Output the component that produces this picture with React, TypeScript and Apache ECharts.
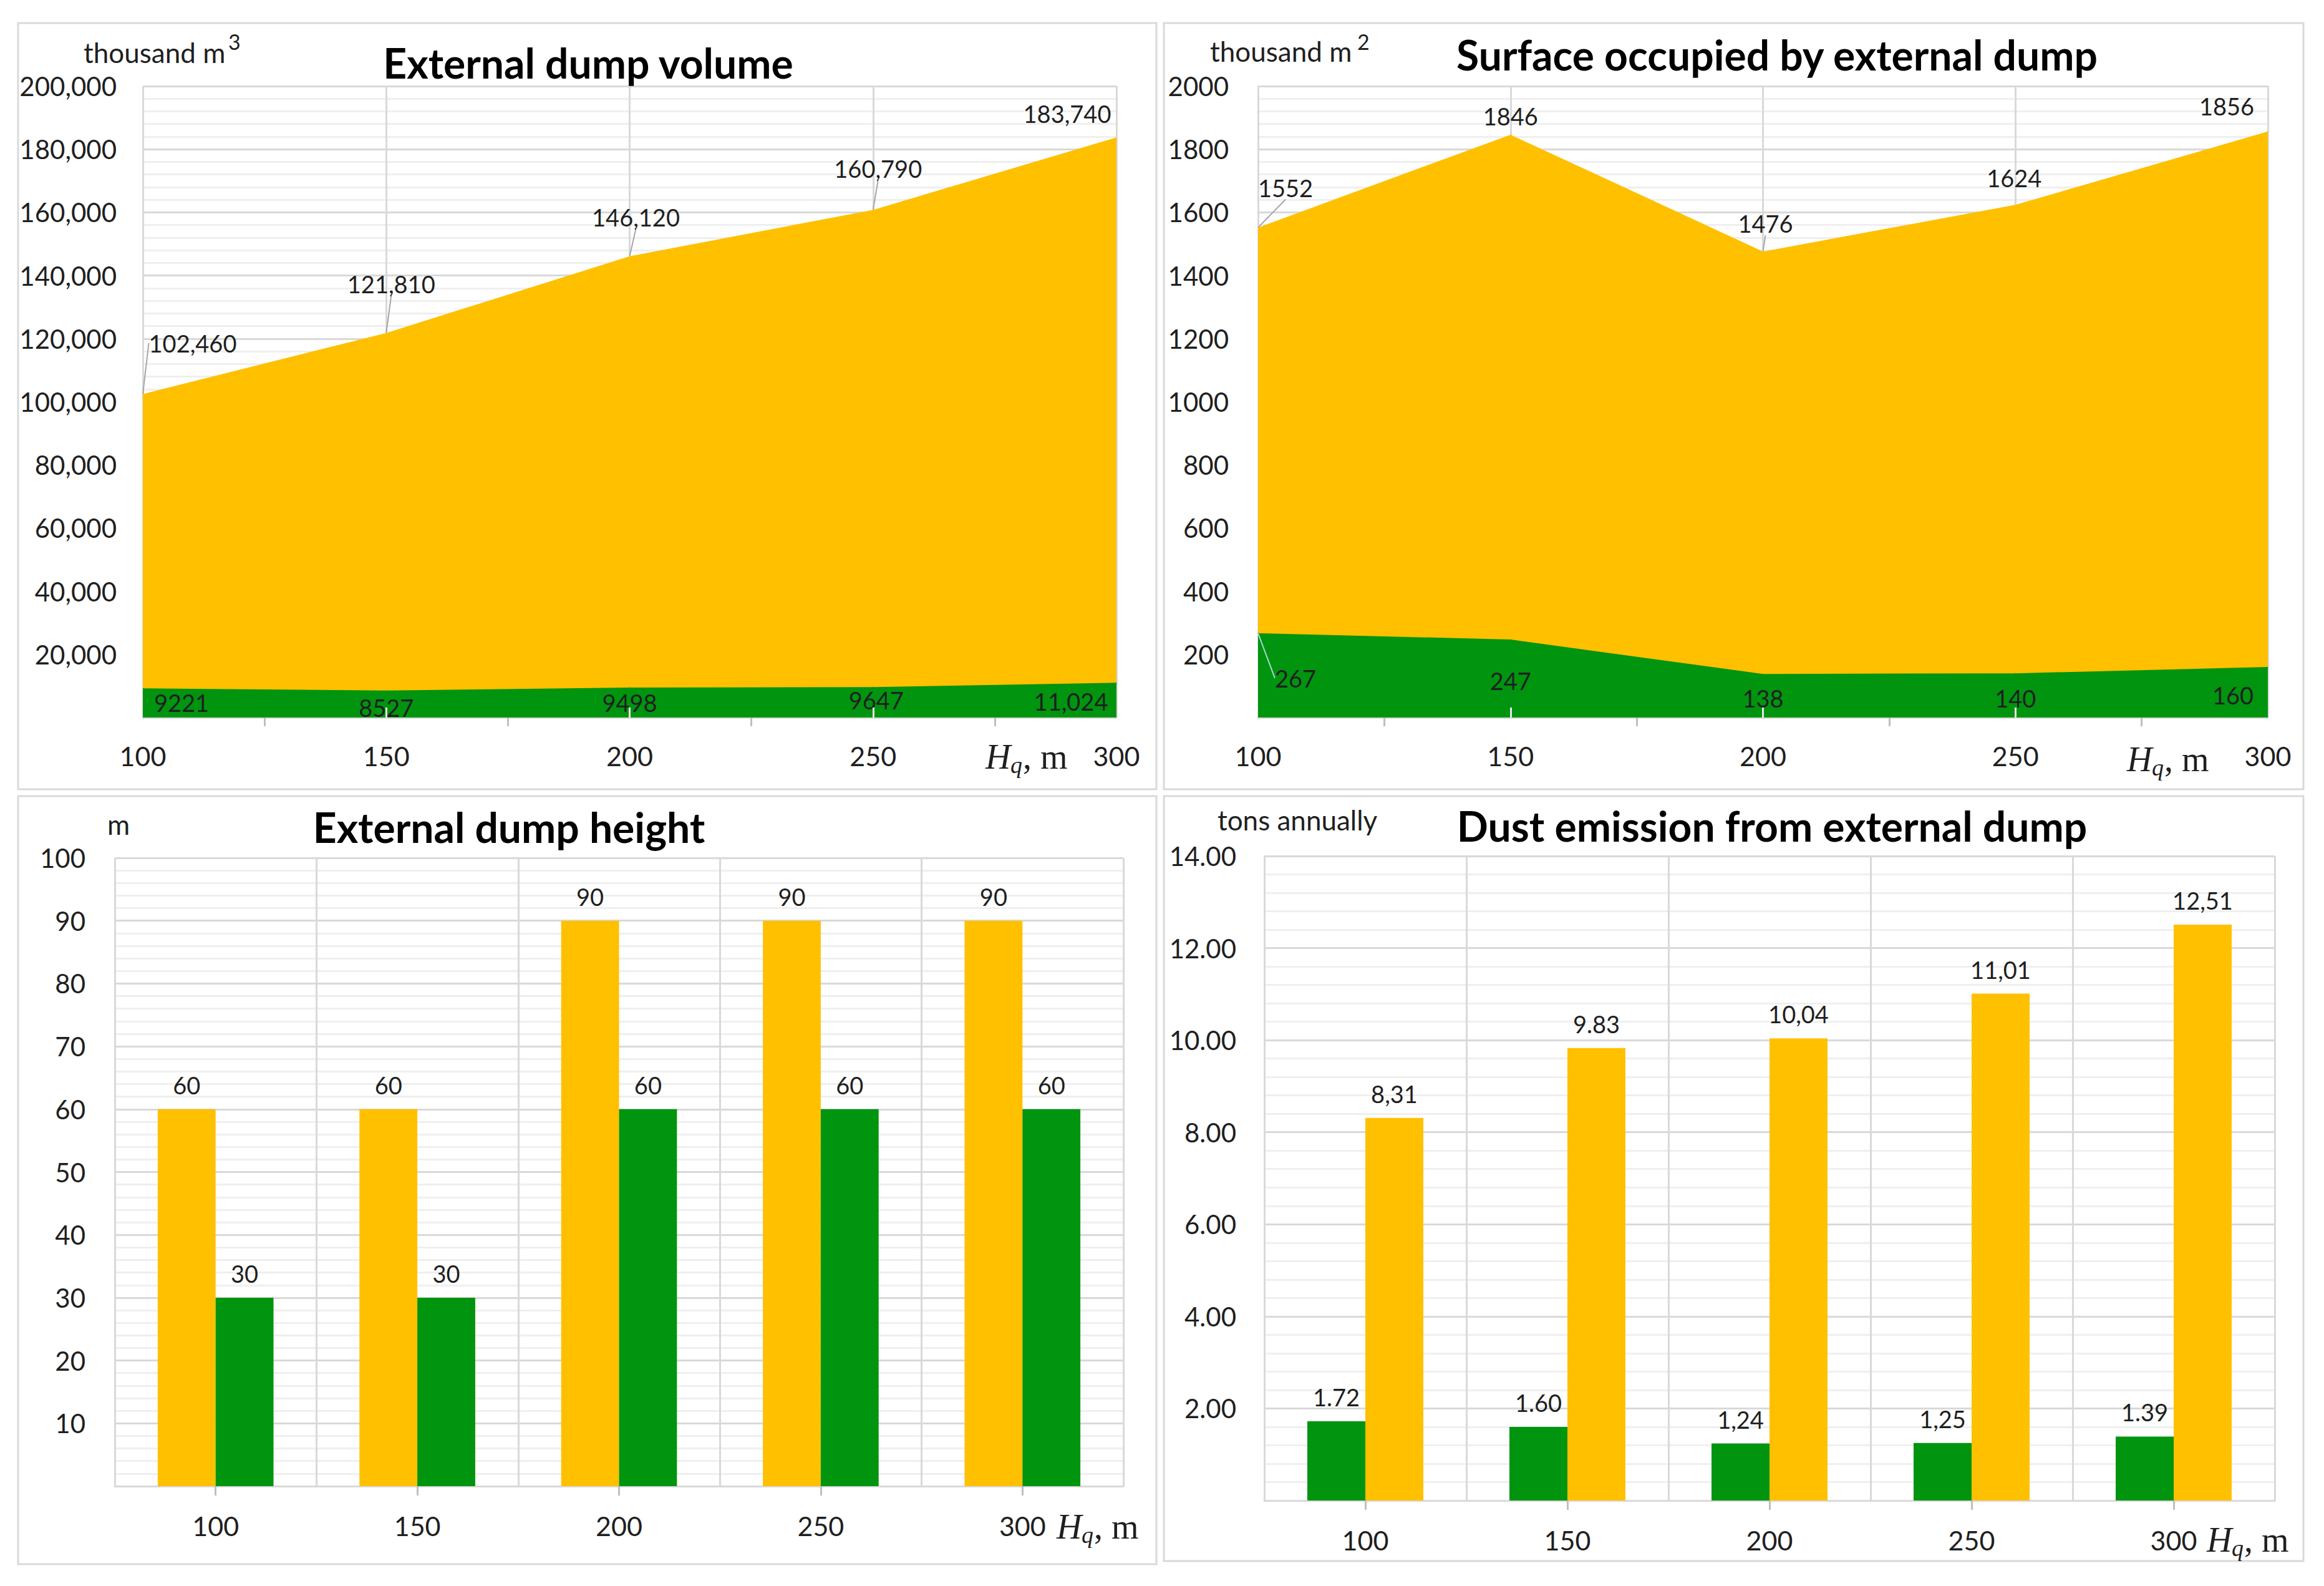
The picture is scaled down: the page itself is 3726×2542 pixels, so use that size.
import React, { useEffect, useRef } from 'react';
import * as echarts from 'echarts';

// ---------------- data ----------------
const H_VALUES = [100, 150, 200, 250, 300];
const H_LABELS = ['100', '150', '200', '250', '300'];

const VOLUME_TOTAL = [102460, 121810, 146120, 160790, 183740];
const VOLUME_TOTAL_LABELS = ['102,460', '121,810', '146,120', '160,790', '183,740'];
const VOLUME_GREEN = [9221, 8527, 9498, 9647, 11024];
const VOLUME_GREEN_LABELS = ['9221', '8527', '9498', '9647', '11,024'];
const VOLUME_TICKS = ['', '20,000', '40,000', '60,000', '80,000', '100,000', '120,000', '140,000', '160,000', '180,000', '200,000'];

const SURFACE_TOTAL = [1552, 1846, 1476, 1624, 1856];
const SURFACE_GREEN = [267, 247, 138, 140, 160];
const SURFACE_TICKS = ['', '200', '400', '600', '800', '1000', '1200', '1400', '1600', '1800', '2000'];

const HEIGHT_YELLOW = [60, 60, 90, 90, 90];
const HEIGHT_GREEN = [30, 30, 60, 60, 60];
const HEIGHT_TICKS = ['', '10', '20', '30', '40', '50', '60', '70', '80', '90', '100'];

const DUST_GREEN = [1.72, 1.6, 1.24, 1.25, 1.39];
const DUST_GREEN_LABELS = ['1.72', '1.60', '1,24', '1,25', '1.39'];
const DUST_YELLOW = [8.31, 9.83, 10.04, 11.01, 12.51];
const DUST_YELLOW_LABELS = ['8,31', '9.83', '10,04', '11,01', '12,51'];
const DUST_TICKS = ['', '2.00', '4.00', '6.00', '8.00', '10.00', '12.00', '14.00'];

// minor (between-category) and inner tick positions on the H axis
const H_OUTER_TICKS = [125, 175, 225, 275];
const H_INNER_TICKS = [150, 200, 250];

// ---------------- label layout (pixel offsets from point) ----------------
const VOL_TOTAL_OFF = [[80, -82], [8, -79], [10, -63], [8, -66], [-79, -38]];
const VOL_TOTAL_LINE = [true, true, true, true, false];
const VOL_GREEN_OFF = [[62, 23], [0, 27], [0, 24], [5, 21], [-73, 30]];
const SURF_TOTAL_OFF = [[44, -64], [0, -30], [4, -45], [-2, -43], [-66, -41]];
const SURF_TOTAL_LINE = [true, false, true, false, false];
const SURF_GREEN_OFF = [[60, 72], [0, 66], [0, 39], [0, 40], [-56, 45]];
const SURF_GREEN_LINE = [true, false, false, false, false];

// ---------------- style ----------------
const FONT = 'Lato, "Open Sans", sans-serif';
const SERIF = '"Liberation Serif", "DejaVu Serif", serif';
const TEXT = '#1f1f1f';
const YELLOW = '#FFC000';
const GREEN = '#00940F';
const GRID_MAJOR = '#d9d9d9';
const GRID_MINOR = '#efefef';
const TICK_FS = 42;
const XLABEL_FS = 43;
const DATA_FS = 38;

const GRIDS = [
  { left: 229, top: 138, width: 1561, height: 1012 },
  { left: 2017, top: 138, width: 1619, height: 1012 },
  { left: 184, top: 1375, width: 1617, height: 1007 },
  { left: 2027, top: 1372, width: 1620, height: 1033 },
];

function valueX(g: number) {
  return {
    type: 'value', gridIndex: g, min: 100, max: 300, interval: 50, position: 'bottom',
    axisLine: { show: true, lineStyle: { color: GRID_MAJOR, width: 3 } },
    axisTick: { show: false },
    axisLabel: { color: TEXT, fontSize: XLABEL_FS, fontFamily: FONT, margin: 40, formatter: (v: number) => H_LABELS[H_VALUES.indexOf(v)] ?? '' },
    splitLine: { show: true, lineStyle: { color: GRID_MAJOR, width: 3 } },
  };
}
function tickX(g: number, values: number[], inside: boolean, length: number, color: string, z: number) {
  return {
    type: 'value', gridIndex: g, min: 100, max: 300, interval: 50, position: 'bottom', z,
    axisLine: { show: false },
    axisLabel: { show: false },
    splitLine: { show: false },
    axisTick: { show: true, inside, customValues: values, length, lineStyle: { color, width: 3 } },
  };
}
function catX(g: number) {
  return {
    type: 'category', gridIndex: g, data: H_LABELS,
    axisLine: { show: true, lineStyle: { color: GRID_MAJOR, width: 3 } },
    axisTick: { show: true, alignWithLabel: true, length: 15, lineStyle: { color: '#bfbfbf', width: 3 } },
    axisLabel: { color: TEXT, fontSize: XLABEL_FS, fontFamily: FONT, margin: 42 },
    splitLine: { show: true, lineStyle: { color: GRID_MAJOR, width: 3 } },
  };
}
function valueY(g: number, max: number, interval: number, ticks: string[], margin: number) {
  return {
    type: 'value', gridIndex: g, min: 0, max, interval,
    axisLine: { show: false },
    axisTick: { show: false },
    minorTick: { show: false, splitNumber: 5 },
    axisLabel: { color: TEXT, fontSize: TICK_FS, fontFamily: FONT, margin, formatter: (v: number) => ticks[Math.round(v / interval)] ?? '' },
    splitLine: { show: true, lineStyle: { color: GRID_MAJOR, width: 3 } },
    minorSplitLine: { show: true, lineStyle: { color: GRID_MINOR, width: 3 } },
  };
}

function areaSeries(g: number, values: number[], labels: string[], color: string, off: number[][], lines: boolean[] | null, lineColor: string) {
  return {
    type: 'line', xAxisIndex: g, yAxisIndex: g,
    data: values.map((v, i) => ({
      value: [H_VALUES[i], v],
      labelLine: { show: lines ? lines[i] : false, lineStyle: { color: lineColor, width: 2 } },
    })),
    symbol: 'circle', symbolSize: 1,
    itemStyle: { color },
    lineStyle: { width: 0, color },
    areaStyle: { color, opacity: 1 },
    label: {
      show: true, position: 'inside', color: TEXT, fontSize: DATA_FS, fontFamily: FONT,
      formatter: (p: any) => labels[p.dataIndex],
    },
    labelLayout: (p: any) => ({ dx: off[p.dataIndex][0], dy: off[p.dataIndex][1] }),
  };
}

function barSeries(g: number, values: number[], labels: string[] | null, color: string) {
  return {
    type: 'bar', xAxisIndex: g, yAxisIndex: g, data: values,
    barGap: '0%', barCategoryGap: '42.6%',
    itemStyle: { color },
    label: {
      show: true, position: 'top', distance: 20, color: TEXT, fontSize: DATA_FS, fontFamily: FONT,
      formatter: (p: any) => (labels ? labels[p.dataIndex] : String(p.value)),
    },
  };
}

function txt(text: string, x: number, y: number, font: string, align = 'left', fill = TEXT) {
  return { type: 'text', x, y, z: 100, style: { text, font, fill, textAlign: align, textVerticalAlign: 'middle' } };
}
function hq(x: number, y: number) {
  return [
    txt('H', x, y, `italic 56px ${SERIF}`),
    txt('q', x + 40, y + 13, `italic 38px ${SERIF}`),
    txt(', m', x + 60, y, `56px ${SERIF}`),
  ];
}
function border(x: number, y: number, w: number, h: number) {
  return { type: 'rect', shape: { x, y, width: w, height: h }, style: { fill: 'none', stroke: GRID_MAJOR, lineWidth: 3 }, z: 0 };
}

export default function App() {
  const ref = useRef<HTMLDivElement>(null);
  useEffect(() => {
    document.body.style.margin = '0';
    if (!ref.current) return;
    const chart = echarts.init(ref.current, null, { renderer: 'svg' });
    const TITLE_FONT = `bold 66px ${FONT}`;
    const UNIT_FONT = `44px ${FONT}`;
    const option: any = {
      animation: false,
      backgroundColor: '#ffffff',
      grid: GRIDS.map((g) => ({ ...g, containLabel: false, outerBoundsMode: 'none' })),
      xAxis: [
        valueX(0), valueX(1), catX(2), catX(3),
        tickX(0, H_OUTER_TICKS, false, 14, '#bfbfbf', 0),
        tickX(1, H_OUTER_TICKS, false, 14, '#bfbfbf', 0),
        tickX(0, H_INNER_TICKS, true, 16, '#e6e6e6', 10),
        tickX(1, H_INNER_TICKS, true, 16, '#e6e6e6', 10),
      ],
      yAxis: [
        valueY(0, 200000, 20000, VOLUME_TICKS, 42),
        valueY(1, 2000, 200, SURFACE_TICKS, 47),
        valueY(2, 100, 10, HEIGHT_TICKS, 47),
        valueY(3, 14, 2, DUST_TICKS, 45),
      ],
      series: [
        areaSeries(0, VOLUME_TOTAL, VOLUME_TOTAL_LABELS, YELLOW, VOL_TOTAL_OFF, VOL_TOTAL_LINE, '#a6a6a6'),
        areaSeries(0, VOLUME_GREEN, VOLUME_GREEN_LABELS, GREEN, VOL_GREEN_OFF, null, '#a6a6a6'),
        areaSeries(1, SURFACE_TOTAL, SURFACE_TOTAL.map(String), YELLOW, SURF_TOTAL_OFF, SURF_TOTAL_LINE, '#a6a6a6'),
        areaSeries(1, SURFACE_GREEN, SURFACE_GREEN.map(String), GREEN, SURF_GREEN_OFF, SURF_GREEN_LINE, '#a8d8cf'),
        barSeries(2, HEIGHT_YELLOW, null, YELLOW),
        barSeries(2, HEIGHT_GREEN, null, GREEN),
        barSeries(3, DUST_GREEN, DUST_GREEN_LABELS, GREEN),
        barSeries(3, DUST_YELLOW, DUST_YELLOW_LABELS, YELLOW),
      ],
      graphic: [
        border(29, 37, 1825, 1228),
        border(1866, 37, 1827, 1228),
        border(29, 1276, 1825, 1231),
        border(1866, 1276, 1827, 1226),
        txt('External dump volume', 943, 100, TITLE_FONT, 'center', '#000'),
        txt('Surface occupied by external dump', 2849, 87, TITLE_FONT, 'center', '#000'),
        txt('External dump height', 816, 1325, TITLE_FONT, 'center', '#000'),
        txt('Dust emission from external dump', 2841, 1323, TITLE_FONT, 'center', '#000'),
        txt('thousand m', 134, 84, UNIT_FONT),
        txt('3', 366, 66, `34px ${FONT}`),
        txt('thousand m', 1940, 82, UNIT_FONT),
        txt('2', 2176, 66, `34px ${FONT}`),
        txt('m', 172, 1321, UNIT_FONT),
        txt('tons annually', 1952, 1314, UNIT_FONT),
        ...hq(1580, 1213),
        ...hq(3410, 1217),
        ...hq(1694, 2447),
        ...hq(3538, 2468),
      ],
    };
    chart.setOption(option);
    return () => chart.dispose();
  }, []);
  return <div ref={ref} style={{ width: 3726, height: 2542, background: '#fff' }} />;
}
